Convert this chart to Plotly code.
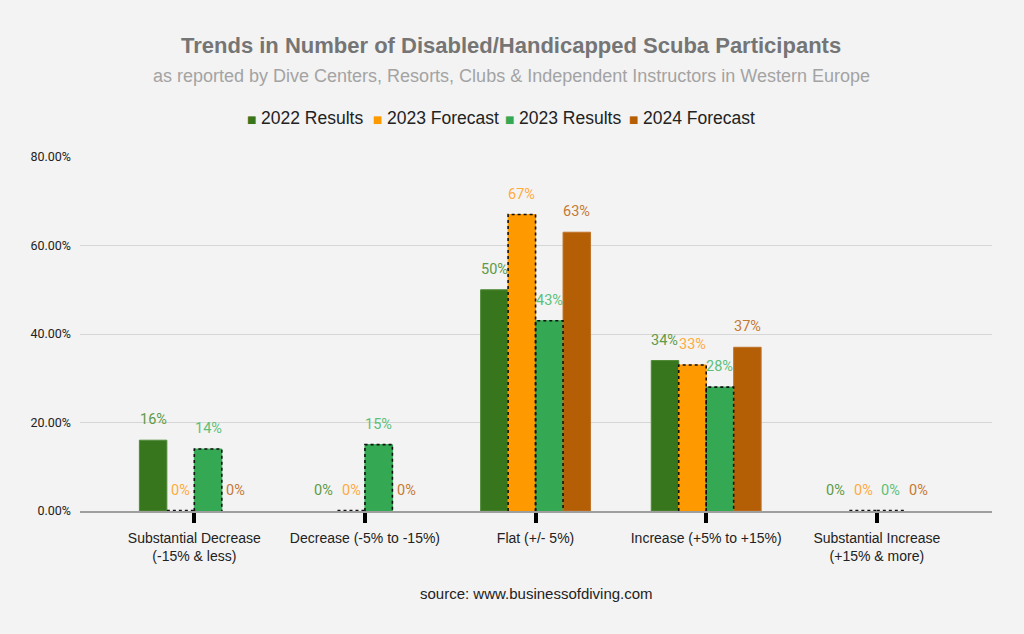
import plotly.graph_objects as go

categories = ["Substantial Decrease<br>(-15% & less)", "Decrease (-5% to -15%)", "Flat (+/- 5%)",
              "Increase (+5% to +15%)", "Substantial Increase<br>(+15% & more)"]
series_names = ["2022 Results", "2023 Forecast", "2023 Results", "2024 Forecast"]
v2022_results = [0.16, 0.00, 0.50, 0.34, 0.00]
v2023_forecast = [0.00, 0.00, 0.67, 0.33, 0.00]
v2023_results = [0.14, 0.15, 0.43, 0.28, 0.00]
v2024_forecast = [0.00, 0.00, 0.63, 0.37, 0.00]
series_values = [v2022_results, v2023_forecast, v2023_results, v2024_forecast]
bar_colors = ["#38761d", "#ff9900", "#34a853", "#b45f06"]
edge_colors = ["#4f8a36", "#ff9900", "#34a853", "#c0742a"]
label_colors = ["#5f9a45", "#ffab40", "#5cc078", "#c47a34"]
dotted = [False, True, True, False]

# manual legend layout (pixel positions of square and text start)
legend_sq_px = [251, 377, 509, 633]
legend_tx_px = [261, 387, 519, 643]

PL, PR, PT, PB = 80, 32, 157, 123
PW, PH = 1024 - PL - PR, 634 - PT - PB

W = 0.161
offsets = [-2 * W, -W, 0, W]
xs = list(range(len(categories)))

fig = go.Figure()
annotations = []
for s, name in enumerate(series_names):
    vals = series_values[s]
    fig.add_trace(go.Bar(
        x=xs, y=vals, name=name, width=W, offset=offsets[s],
        marker=dict(color=bar_colors[s],
                    line=dict(width=[1 if v > 0 else 0 for v in vals], color=edge_colors[s])),
        hoverinfo="skip", showlegend=False,
    ))
    for i, v in enumerate(vals):
        cx = xs[i] + offsets[s] + W / 2
        annotations.append(dict(
            x=cx, y=v, xref="x", yref="y", text=f"{round(v*100)}%",
            showarrow=False, yanchor="bottom", yshift=10,
            font=dict(family="Roboto", size=14.5, color=label_colors[s]),
        ))
        if dotted[s]:
            x0 = xs[i] + offsets[s]
            x1 = x0 + W
            if v > 0:
                px = [x0, x0, x1, x1]
                py = [0, v, v, 0]
            else:
                px = [x0, x1]
                py = [0.001, 0.001]
            fig.add_trace(go.Scatter(
                x=px, y=py, mode="lines", showlegend=False, hoverinfo="skip",
                line=dict(color="#111111", width=1.6, dash="dot"),
            ))

for s, name in enumerate(series_names):
    annotations.append(dict(
        text="■", x=(legend_sq_px[s] - PL) / PW, y=1 + (PT - 120) / PH,
        xref="paper", yref="paper", showarrow=False, xanchor="center", yanchor="middle",
        font=dict(family="DejaVu Sans", size=10, color=bar_colors[s])))
    annotations.append(dict(
        text=name, x=(legend_tx_px[s] - PL) / PW, y=1 + (PT - 118) / PH,
        xref="paper", yref="paper", showarrow=False, xanchor="left", yanchor="middle",
        xshift=-2,
        font=dict(family="Liberation Sans, Arial", size=17.5, color="#222222")))

annotations += [
    dict(text="<b>Trends in Number of Disabled/Handicapped Scuba Participants</b>",
         x=(511 - PL) / PW, y=1 + (PT - 45) / PH, xref="paper", yref="paper", showarrow=False,
         yanchor="middle",
         font=dict(family="Liberation Sans, Arial", size=22, color="#757575")),
    dict(text="as reported by Dive Centers, Resorts, Clubs & Independent Instructors in Western Europe",
         x=(511 - PL) / PW, y=1 + (PT - 76) / PH, xref="paper", yref="paper", showarrow=False,
         yanchor="middle",
         font=dict(family="Liberation Sans, Arial", size=18, color="#a3a3a3")),
    dict(text="source: www.businessofdiving.com",
         x=0.5, y=-(593 - (634 - PB)) / PH, xref="paper", yref="paper", showarrow=False, yanchor="middle",
         font=dict(family="Liberation Sans, Arial", size=15, color="#222222")),
]

fig.update_layout(
    width=1024, height=634,
    paper_bgcolor="#f3f3f3", plot_bgcolor="#f3f3f3",
    margin=dict(l=PL, r=PR, t=PT, b=PB),
    barmode="overlay",
    showlegend=False,
    annotations=annotations,
    xaxis=dict(
        range=[-0.67, 4.675], tickmode="array", tickvals=xs, ticktext=categories,
        showgrid=False, zeroline=False, showline=True, linecolor="#9e9e9e", linewidth=2,
        ticks="outside", ticklen=10, tickwidth=4, tickcolor="#000000",
        ticklabelstandoff=3,
        tickfont=dict(family="Liberation Sans, Arial", size=14, color="#222222"),
        fixedrange=True,
    ),
    yaxis=dict(
        range=[0, 0.8], dtick=0.2, tickformat=".2%",
        showgrid=True, gridcolor="#d6d6d6", gridwidth=1, zeroline=False,
        showline=False, ticks="", ticklabelstandoff=8,
        tickfont=dict(family="Roboto", size=12.5, color="#222222"),
        fixedrange=True,
    ),
)

fig.write_html("out.html", config={"displayModeBar": False},
               post_script="document.body.style.margin='0';")
